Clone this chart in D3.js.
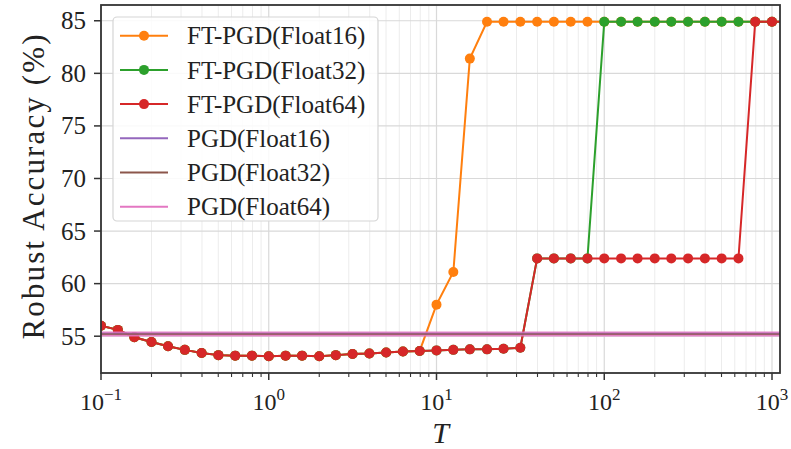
<!DOCTYPE html>
<html>
<head>
<meta charset="utf-8">
<script src="https://cdn.jsdelivr.net/npm/d3@7"></script>
<style>
  body { margin: 0; background: #fff; }
  text { font-family: "Liberation Serif", "DejaVu Serif", serif; fill: #222; }
</style>
</head>
<body>
<script>
// T values (10 per decade), last one sits just past the right edge
var tValues = [0.1, 0.126, 0.158, 0.2, 0.251, 0.316, 0.398, 0.501, 0.631, 0.794,
  1, 1.26, 1.58, 2, 2.51, 3.16, 3.98, 5.01, 6.31, 7.94,
  10, 12.6, 15.8, 20, 25.1, 31.6, 39.8, 50.1, 63.1, 79.4,
  100, 126, 158, 200, 251, 316, 398, 501, 631, 794, 1000, 1259];

var ftFloat16 = [56.0, 55.6, 54.9, 54.45, 54.05, 53.7, 53.4, 53.2, 53.15, 53.15,
  53.1, 53.15, 53.15, 53.1, 53.2, 53.3, 53.35, 53.45, 53.55, 53.6,
  58.0, 61.1, 81.4, 84.9, 84.9, 84.9, 84.9, 84.9, 84.9, 84.9,
  84.9, 84.9, 84.9, 84.9, 84.9, 84.9, 84.9, 84.9, 84.9, 84.9, 84.9, 84.9];

var ftFloat32 = [56.0, 55.6, 54.9, 54.45, 54.05, 53.7, 53.4, 53.2, 53.15, 53.15,
  53.1, 53.15, 53.15, 53.1, 53.2, 53.3, 53.35, 53.45, 53.55, 53.6,
  53.65, 53.7, 53.75, 53.75, 53.8, 53.9, 62.4, 62.4, 62.4, 62.4,
  84.9, 84.9, 84.9, 84.9, 84.9, 84.9, 84.9, 84.9, 84.9, 84.9, 84.9, 84.9];

var ftFloat64 = [56.0, 55.6, 54.9, 54.45, 54.05, 53.7, 53.4, 53.2, 53.15, 53.15,
  53.1, 53.15, 53.15, 53.1, 53.2, 53.3, 53.35, 53.45, 53.55, 53.6,
  53.65, 53.7, 53.75, 53.75, 53.8, 53.9, 62.4, 62.4, 62.4, 62.4,
  62.4, 62.4, 62.4, 62.4, 62.4, 62.4, 62.4, 62.4, 62.4, 84.9, 84.9, 84.9];

// PGD baselines (horizontal lines)
var pgdValues = [55.25, 55.2, 55.22];

var ftNames = ["FT-PGD(Float16)", "FT-PGD(Float32)", "FT-PGD(Float64)"];
var pgdNames = ["PGD(Float16)", "PGD(Float32)", "PGD(Float64)"];
var ftColors = ["#ff7f0e", "#2ca02c", "#d62728"];
var pgdColors = ["#9467bd", "#8c564b", "#e377c2"];

var yTicks = [55, 60, 65, 70, 75, 80, 85];
var xTicks = [0.1, 1, 10, 100, 1000];
var xTickExp = ["\u22121", "0", "1", "2", "3"];

var width = 791, height = 449;
var margin = {left: 101, right: 11, top: 5, bottom: 76};

var svg = d3.select("body").append("svg")
    .attr("width", width)
    .attr("height", height);

var x = d3.scaleLog()
    .domain([0.1, 1116])
    .range([margin.left, width - margin.right]);

var y = d3.scaleLinear()
    .domain([51.5, 86.5])
    .range([height - margin.bottom, margin.top]);

svg.append("clipPath").attr("id", "clip")
  .append("rect")
    .attr("x", margin.left).attr("y", margin.top)
    .attr("width", width - margin.left - margin.right)
    .attr("height", height - margin.top - margin.bottom);

// minor ticks: 2..9 each decade
var minorTicks = [];
[0.1, 1, 10, 100, 1000].forEach(function(d) {
  for (var k = 2; k <= 9; k++) {
    if (d * k <= x.domain()[1]) minorTicks.push(d * k);
  }
});

var grid = svg.append("g");
grid.selectAll("line.minor")
  .data(minorTicks)
  .enter().append("line")
    .attr("x1", function(d) { return x(d); })
    .attr("x2", function(d) { return x(d); })
    .attr("y1", margin.top)
    .attr("y2", height - margin.bottom)
    .attr("stroke", "#ececec")
    .attr("stroke-width", 1);

grid.selectAll("line.majorx")
  .data(xTicks)
  .enter().append("line")
    .attr("x1", function(d) { return x(d); })
    .attr("x2", function(d) { return x(d); })
    .attr("y1", margin.top)
    .attr("y2", height - margin.bottom)
    .attr("stroke", "#d9d9d9")
    .attr("stroke-width", 1.2);

grid.selectAll("line.majory")
  .data(yTicks)
  .enter().append("line")
    .attr("x1", margin.left)
    .attr("x2", width - margin.right)
    .attr("y1", function(d) { return y(d); })
    .attr("y2", function(d) { return y(d); })
    .attr("stroke", "#d9d9d9")
    .attr("stroke-width", 1.2);

var plot = svg.append("g").attr("clip-path", "url(#clip)");

var line = d3.line()
    .x(function(d, i) { return x(tValues[i]); })
    .y(function(d) { return y(d); });

var ftSeries = [ftFloat16, ftFloat32, ftFloat64];
ftSeries.forEach(function(vals, s) {
  plot.append("path")
      .datum(vals)
      .attr("d", line)
      .attr("fill", "none")
      .attr("stroke", ftColors[s])
      .attr("stroke-width", 2);
  plot.selectAll("circle.s" + s)
    .data(vals)
    .enter().append("circle")
      .attr("cx", function(d, i) { return x(tValues[i]); })
      .attr("cy", function(d) { return y(d); })
      .attr("r", 5)
      .attr("fill", ftColors[s]);
});

// pink band drawn wide underneath, purple/brown thin on top
[2, 0, 1].forEach(function(s) {
  plot.append("line")
      .attr("x1", margin.left)
      .attr("x2", width - margin.right)
      .attr("y1", y(pgdValues[s]))
      .attr("y2", y(pgdValues[s]))
      .attr("stroke", pgdColors[s])
      .attr("stroke-opacity", s == 2 ? 0.9 : 0.75)
      .attr("stroke-width", s == 2 ? 5 : 1.6);
});

// axes
var xAxis = svg.append("g")
    .attr("transform", "translate(0," + (height - margin.bottom) + ")");
xAxis.selectAll("line.maj")
  .data(xTicks)
  .enter().append("line")
    .attr("x1", function(d) { return x(d); })
    .attr("x2", function(d) { return x(d); })
    .attr("y1", 0).attr("y2", 7)
    .attr("stroke", "#333").attr("stroke-width", 1.5);
xAxis.selectAll("line.min")
  .data(minorTicks)
  .enter().append("line")
    .attr("x1", function(d) { return x(d); })
    .attr("x2", function(d) { return x(d); })
    .attr("y1", 0).attr("y2", 4)
    .attr("stroke", "#333").attr("stroke-width", 1.1);
var xl = xAxis.selectAll("text")
  .data(xTicks)
  .enter().append("text")
    .attr("x", function(d) { return x(d); })
    .attr("y", 37)
    .attr("text-anchor", "middle")
    .style("font-size", "24px");
xl.append("tspan").text("10");
xl.append("tspan")
    .attr("dy", -10)
    .style("font-size", "17px")
    .text(function(d, i) { return xTickExp[i]; });

var yAxis = svg.append("g");
yAxis.selectAll("line")
  .data(yTicks)
  .enter().append("line")
    .attr("x1", margin.left - 7)
    .attr("x2", margin.left)
    .attr("y1", function(d) { return y(d); })
    .attr("y2", function(d) { return y(d); })
    .attr("stroke", "#333").attr("stroke-width", 1.5);
yAxis.selectAll("text")
  .data(yTicks)
  .enter().append("text")
    .attr("x", margin.left - 15)
    .attr("y", function(d) { return y(d); })
    .attr("dy", "0.34em")
    .attr("text-anchor", "end")
    .style("font-size", "25px")
    .text(function(d) { return d; });

// frame
svg.append("rect")
    .attr("x", margin.left).attr("y", margin.top)
    .attr("width", width - margin.left - margin.right)
    .attr("height", height - margin.top - margin.bottom)
    .attr("fill", "none")
    .attr("stroke", "#333")
    .attr("stroke-width", 1.8);

// axis titles
svg.append("text")
    .attr("transform", "translate(44,187) rotate(-90)")
    .attr("text-anchor", "middle")
    .attr("textLength", 305)
    .attr("lengthAdjust", "spacing")
    .style("font-size", "31px")
    .text("Robust Accuracy (%)");

svg.append("text")
    .attr("x", (margin.left + width - margin.right) / 2)
    .attr("y", 443)
    .attr("text-anchor", "middle")
    .style("font-size", "30px")
    .style("font-style", "italic")
    .text("T");

// legend
var legend = svg.append("g");
legend.append("rect")
    .attr("x", 113).attr("y", 17)
    .attr("width", 265).attr("height", 204)
    .attr("rx", 4)
    .attr("fill", "#fff").attr("fill-opacity", 0.85)
    .attr("stroke", "#d5d5d5").attr("stroke-width", 1.2);

var legendNames = ftNames.concat(pgdNames);
var legendColors = ftColors.concat(pgdColors);
legendNames.forEach(function(name, i) {
  var ly = 35.7 + i * 34.2;
  legend.append("line")
      .attr("x1", 120).attr("x2", 168)
      .attr("y1", ly).attr("y2", ly)
      .attr("stroke", legendColors[i])
      .attr("stroke-width", 2);
  if (i < 3) {
    legend.append("circle")
        .attr("cx", 144).attr("cy", ly).attr("r", 5)
        .attr("fill", legendColors[i]);
  }
  legend.append("text")
      .attr("x", 187).attr("y", ly)
      .attr("dy", "0.35em")
      .style("font-size", "25px")
      .text(name);
});
</script>
</body>
</html>
